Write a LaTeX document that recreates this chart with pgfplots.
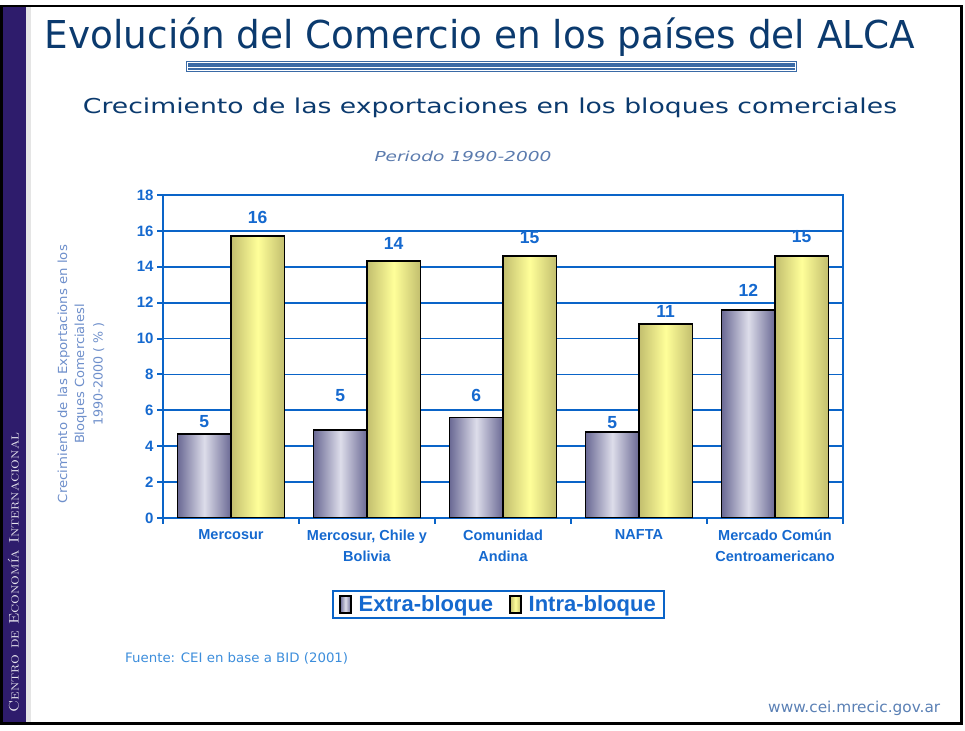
\documentclass[border=0pt]{standalone}
\usepackage{graphicx}
\usepackage{fontspec}
\usepackage{pgfplots}
\pgfplotsset{compat=1.18}
\newfontfamily\dv{DejaVu Sans}
\newfontfamily\ar{Liberation Sans}
\definecolor{band}{HTML}{2E1C6C}
\definecolor{navy}{HTML}{0B3A6E}
\definecolor{axblue}{HTML}{0A64C8}
\definecolor{axtext}{HTML}{1569CF}
\definecolor{exdark}{HTML}{6A6994}
\definecolor{exlight}{HTML}{DDDDEA}
\definecolor{indark}{HTML}{C2BE6E}
\definecolor{inlight}{HTML}{FFFF99}
\definecolor{ylab}{HTML}{6E8FCB}
\definecolor{src}{HTML}{3D8EDC}
\definecolor{web}{HTML}{5A80B5}
\definecolor{deco}{HTML}{3A6AA6}
\definecolor{period}{HTML}{5B7BAE}
\pgfplotsset{
  exbar/.style={ybar, bar shift=-0.1965, draw=black, line width=1.8pt,
     left color=exdark, right color=exdark, middle color=exlight,
     legend image code/.code={\draw[##1, draw=black, line width=1.5pt] (0pt,-8.5pt) rectangle (11pt,8.5pt);},
     every node near coord/.append style={xshift=-26.7pt, yshift=#1}},
  inbar/.style={ybar, bar shift=0.1965, draw=black, line width=1.8pt,
     left color=indark, right color=indark, middle color=inlight,
     legend image code/.code={\draw[##1, draw=black, line width=1.5pt] (0pt,-8.5pt) rectangle (11pt,8.5pt);},
     every node near coord/.append style={xshift=26.7pt, yshift=#1}},
}
\begin{document}
\begin{tikzpicture}[x=1pt,y=1pt]
\useasboundingbox (0,0) rectangle (965,730);
\fill[white] (0,0) rectangle (965,730);
% left band
\fill[band] (3,8) rectangle (26,723);
\fill[black!10] (26,8) rectangle (31,723);
\node[rotate=90, anchor=base, text=white!88!band, inner sep=0] at (18.7,157.5)
  {\resizebox{280pt}{\height}{\fontsize{13.8}{14}\selectfont\scshape Centro de Economía Internacional}};
% frame
\draw[black, line width=2.5pt] (1.5,6.5) rectangle (961.5,724);
\draw[black, line width=1.5pt] (962.5,6) -- (962.5,723);
\draw[black, line width=1.5pt] (2,5.5) -- (962,5.5);
% title
\node[anchor=base, text=navy, inner sep=0] at (480,681.7)
  {\resizebox{870pt}{\height}{\dv\fontsize{38.4}{40}\selectfont Evolución del Comercio en los países del ALCA}};
% decoration
\draw[deco, line width=1pt] (186.5,658) rectangle (796.5,668.5);
\fill[deco] (188,663) rectangle (795,666.5);
\fill[deco] (188,659.5) rectangle (795,661.5);
% subtitle
\node[anchor=base, text=navy, inner sep=0] at (490,616)
  {\resizebox{814pt}{\height}{\dv\fontsize{20.5}{22}\selectfont Crecimiento de las exportaciones en los bloques comerciales}};
\node[anchor=base, text=period, inner sep=0] at (463,568.3)
  {\resizebox{177pt}{\height}{\dv\itshape\fontsize{13.7}{15}\selectfont Periodo 1990-2000}};
% source
\node[anchor=base west, text=src, inner sep=0] at (125,67.3)
  {\resizebox{223pt}{\height}{\dv\fontsize{13}{14}\selectfont Fuente: CEI en base a BID (2001)}};
\node[anchor=base west, text=web, inner sep=0] at (768,18)
  {\resizebox{172pt}{\height}{\dv\fontsize{15}{16}\selectfont www.cei.mrecic.gov.ar}};
% y label
\node[rotate=90, anchor=base, text=ylab, inner sep=0] at (67,356)
  {\resizebox{258pt}{\height}{\dv\fontsize{12.5}{14}\selectfont Crecimiento de las Exportacions en los}};
\node[rotate=90, anchor=base, text=ylab, inner sep=0] at (84,356)
  {\resizebox{140pt}{\height}{\dv\fontsize{12.5}{14}\selectfont Bloques Comercialesl}};
\node[rotate=90, anchor=base, text=ylab, inner sep=0] at (102.5,356)
  {\resizebox{103pt}{\height}{\dv\fontsize{12.5}{14}\selectfont 1990-2000 ( \% )}};
\begin{axis}[
  at={(163pt,212pt)}, anchor=south west,
  scale only axis, width=680pt, height=323pt,
  ymin=0, ymax=18, ytick={0,2,...,18},
  xmin=-0.5, xmax=4.5,
  xtick={0,...,4},
  xticklabels={Mercosur, {Mercosur, Chile y\\Bolivia}, {Comunidad\\Andina}, NAFTA, {Mercado Común\\Centroamericano}},
  /pgf/number format/assume math mode=true,
  xticklabel style={align=center, font=\ar\bfseries\fontsize{14.5}{21}\selectfont, text=axtext, yshift=-2pt},
  yticklabel style={font=\ar\bfseries\fontsize{15}{16}\selectfont, text=axtext},
  axis line style={draw=axblue, line width=2pt},
  ymajorgrids, grid style={draw=axblue, line width=1.8pt},
  tick pos=left,
  tick align=outside,
  major tick length=6pt,
  minor tick length=6pt,
  major x tick style={draw=none},
  minor xtick={-0.5,0.5,...,4.5},
  minor x tick style={draw=axblue, line width=2pt},
  y tick style={draw=axblue, line width=2pt},
  bar width=0.393,
  nodes near coords={\pgfmathprintnumber[fixed,precision=0,assume math mode=true]{\pgfplotspointmeta}},
  nodes near coords style={font=\ar\bfseries\fontsize{17.5}{18}\selectfont, text=axtext, anchor=south, inner sep=0},
  legend style={at={(axis description cs:0.4934,-0.268)}, anchor=center, draw=axblue, line width=2pt,
     legend columns=2, font=\ar\bfseries\fontsize{22}{24}\selectfont, text=axtext,
     inner xsep=6pt, inner ysep=3pt,
     /tikz/every odd column/.append style={column sep=5pt},
     /tikz/every even column/.append style={column sep=14pt}},
]
\addplot[exbar=5pt] coordinates {(0,4.7)};
\addplot[inbar=11.5pt] coordinates {(0,15.7)};
\addplot[exbar=27pt, forget plot] coordinates {(1,4.9)};
\addplot[exbar=15pt, forget plot] coordinates {(2,5.6)};
\addplot[exbar=2pt, forget plot] coordinates {(3,4.8)};
\addplot[exbar=12pt, forget plot] coordinates {(4,11.6)};
\addplot[inbar=11pt, forget plot] coordinates {(1,14.3)};
\addplot[inbar=11pt, forget plot] coordinates {(2,14.6)};
\addplot[inbar=6pt, forget plot] coordinates {(3,10.8)};
\addplot[inbar=12.5pt, forget plot] coordinates {(4,14.6)};
\legend{Extra-bloque, Intra-bloque}
\end{axis}
\end{tikzpicture}
\end{document}
